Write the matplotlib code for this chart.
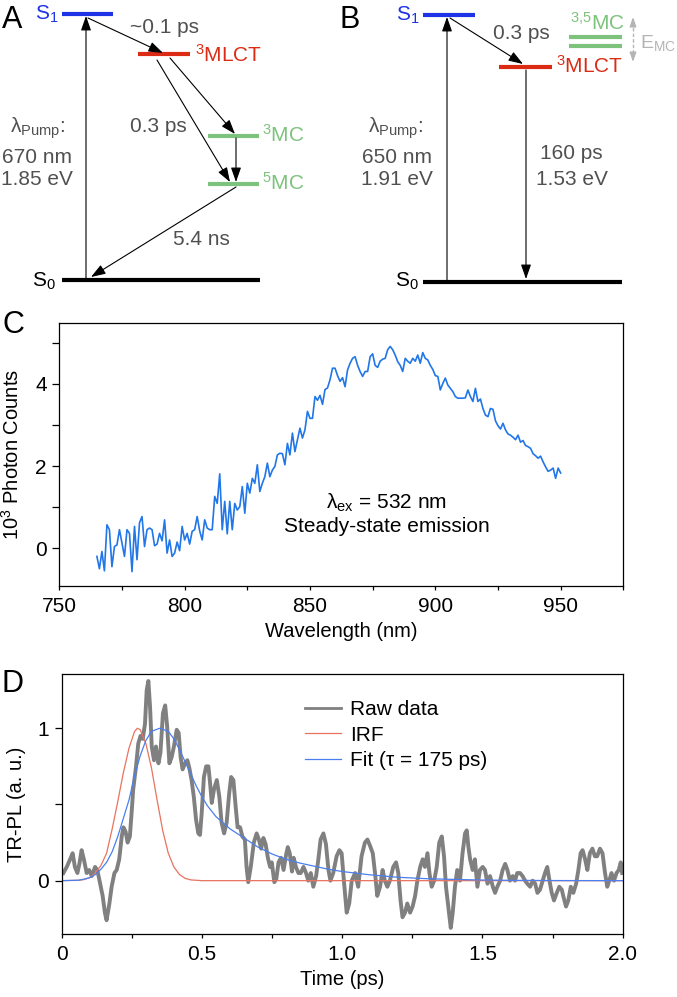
import matplotlib
matplotlib.use('Agg')
import matplotlib.pyplot as plt
import numpy as np

plt.rcParams['font.family'] = ['Liberation Sans', 'DejaVu Sans']
plt.rcParams['mathtext.fontset'] = 'custom'
plt.rcParams['mathtext.rm'] = 'Liberation Sans'
plt.rcParams['mathtext.it'] = 'Liberation Sans:italic'
plt.rcParams['mathtext.bf'] = 'Liberation Sans:bold'

W, H = 677, 997

# ---------------- panel C: steady-state emission ----------------
wl = np.arange(765, 951)
counts = [
    -0.20, -0.50, -0.08, -0.55, 0.57, 0.45, -0.45, 0.04, 0.08, 0.45,   # 765
    0.12, -0.20, 0.45, 0.36, -0.57, 0.53, -0.28, 0.62, 0.77, 0.04,     # 775
    0.45, 0.49, 0.45, 0.06, 0.10, 0.36, 0.18, 0.69, -0.12, 0.20,       # 785
    -0.20, -0.12, 0.15, -0.06, 0.53, 0.20, 0.36, 0.10, 0.41, 0.45,     # 795
    0.77, 0.42, 0.20, 0.69, 0.49, 0.45, 0.45, 1.26, 1.09, 1.81,        # 805
    0.45, 1.14, 0.35, 1.14, 0.45, 1.09, 0.93, 1.01, 1.50, 0.85,        # 815
    1.58, 1.34, 1.70, 1.58, 2.03, 1.38, 1.58, 1.74, 2.07, 1.74,        # 825
    1.90, 1.99, 2.27, 2.31, 2.30, 2.03, 2.55, 2.27, 2.80, 2.35,        # 835
    2.64, 2.92, 2.68, 2.88, 3.33, 3.16, 3.16, 3.69, 3.60, 3.72,        # 845
    3.50, 3.86, 3.90, 4.10, 4.38, 4.38, 4.20, 4.06, 4.15, 3.93,        # 855
    4.34, 4.50, 4.62, 4.66, 4.45, 4.30, 4.18, 4.30, 4.30, 4.66,        # 865
    4.73, 4.45, 4.40, 4.55, 4.60, 4.62, 4.83, 4.91, 4.83, 4.70,        # 875
    4.54, 4.45, 4.30, 4.62, 4.55, 4.50, 4.62, 4.55, 4.70, 4.50,        # 885
    4.76, 4.62, 4.58, 4.45, 4.35, 4.20, 4.18, 3.85, 4.01, 4.14,        # 895
    3.97, 3.89, 3.81, 3.69, 3.65, 3.65, 3.65, 3.66, 3.85, 3.69,        # 905
    3.57, 3.89, 3.57, 3.63, 3.40, 3.24, 3.20, 3.40, 3.38, 3.10,        # 915
    2.98, 2.90, 3.04, 2.88, 2.78, 2.75, 2.70, 2.64, 2.75, 2.58,        # 925
    2.62, 2.50, 2.47, 2.43, 2.30, 2.25, 2.19, 2.24, 2.10, 1.98,        # 935
    1.87, 1.90, 1.95, 1.70, 1.95, 1.83,                                # 945
]

# ---------------- panel D: TR-PL ----------------
t_raw = [0.006, 0.018, 0.030, 0.039, 0.047, 0.056, 0.063, 0.071, 0.079, 0.089,
         0.098, 0.107, 0.119, 0.127, 0.137, 0.146, 0.154, 0.160, 0.170, 0.178,
         0.188, 0.196, 0.205, 0.214, 0.220, 0.228, 0.235, 0.243, 0.249, 0.255,
         0.265, 0.273, 0.281, 0.289, 0.297, 0.303, 0.309, 0.315, 0.321, 0.329,
         0.336, 0.345, 0.352, 0.361, 0.369, 0.376, 0.384, 0.392, 0.400, 0.410,
         0.417, 0.424, 0.431, 0.440, 0.448, 0.455, 0.463, 0.471, 0.479, 0.487,
         0.493, 0.499, 0.507, 0.515, 0.523, 0.529, 0.535, 0.543, 0.553, 0.562,
         0.570, 0.579, 0.588, 0.597, 0.604, 0.612, 0.620, 0.627, 0.636, 0.644,
         0.653, 0.659, 0.665, 0.674, 0.685, 0.695, 0.703, 0.711, 0.719, 0.727,
         0.735, 0.743, 0.749, 0.758, 0.765, 0.773, 0.782, 0.791, 0.800, 0.806,
         0.813, 0.821, 0.827, 0.835, 0.844, 0.852, 0.862, 0.871, 0.879, 0.888,
         0.897, 0.907, 0.915, 0.923, 0.933, 0.942, 0.951, 0.958, 0.968, 0.980,
         0.990, 0.998, 1.006, 1.016, 1.025, 1.034, 1.046, 1.057, 1.069, 1.081,
         1.090, 1.099, 1.109, 1.117, 1.125, 1.135, 1.144, 1.152, 1.161, 1.170,
         1.182, 1.192, 1.200, 1.208, 1.215, 1.224, 1.232, 1.242, 1.251, 1.260,
         1.268, 1.278, 1.287, 1.295, 1.304, 1.311, 1.319, 1.328, 1.337, 1.346,
         1.355, 1.363, 1.370, 1.378, 1.387, 1.394, 1.402, 1.410, 1.420, 1.429,
         1.438, 1.444, 1.450, 1.456, 1.465, 1.473, 1.482, 1.491, 1.501, 1.509,
         1.518, 1.527, 1.537, 1.545, 1.553, 1.563, 1.572, 1.581, 1.589, 1.598,
         1.608, 1.616, 1.624, 1.634, 1.643, 1.652, 1.660, 1.670, 1.679, 1.688,
         1.696, 1.705, 1.715, 1.723, 1.731, 1.739, 1.747, 1.755, 1.765, 1.774,
         1.783, 1.788, 1.798, 1.806, 1.815, 1.824, 1.834, 1.842, 1.850, 1.857,
         1.866, 1.874, 1.883, 1.892, 1.901, 1.909, 1.919, 1.928, 1.937, 1.945,
         1.952, 1.960, 1.969, 1.978, 1.986, 1.993, 1.998]
y_raw = [0.05, 0.09, 0.14, 0.18, 0.09, 0.05, 0.11, 0.20, 0.14, 0.05,
         0.07, 0.03, 0.09, 0.07, -0.02, -0.10, -0.21, -0.26, -0.15, -0.04,
         0.05, 0.07, 0.14, 0.29, 0.35, 0.32, 0.25, 0.29, 0.44, 0.60,
         0.75, 0.90, 0.95, 0.93, 1.03, 1.25, 1.31, 1.14, 0.88, 0.79,
         0.88, 0.77, 0.84, 1.10, 1.15, 1.01, 0.77, 0.81, 0.88, 0.99,
         0.97, 0.81, 0.73, 0.77, 0.79, 0.74, 0.66, 0.55, 0.40, 0.31,
         0.30, 0.44, 0.68, 0.75, 0.75, 0.64, 0.51, 0.60, 0.66, 0.55,
         0.38, 0.31, 0.38, 0.57, 0.68, 0.66, 0.49, 0.35, 0.35, 0.29,
         0.27, 0.09, -0.01, 0.09, 0.25, 0.31, 0.27, 0.21, 0.28, 0.24,
         0.15, 0.09, 0.12, -0.01, 0.01, 0.12, 0.15, 0.07, 0.17, 0.22,
         0.18, 0.06, 0.15, 0.09, 0.05, 0.05, 0.09, 0.05, 0.00, 0.05,
         -0.04, 0.03, 0.14, 0.27, 0.31, 0.24, 0.07, 0.00, 0.05, 0.16,
         0.20, 0.18, 0.00, -0.21, -0.15, 0.00, 0.05, -0.04, 0.16, 0.25,
         0.27, 0.23, 0.18, 0.05, -0.10, -0.04, 0.07, 0.00, -0.04, 0.00,
         0.09, 0.12, 0.05, -0.13, -0.24, -0.21, -0.15, -0.21, -0.17, -0.10,
         0.00, 0.09, 0.14, 0.09, 0.18, 0.05, -0.04, 0.00, 0.09, 0.25,
         0.29, 0.16, -0.04, -0.17, -0.31, -0.21, -0.04, 0.07, 0.00, 0.18,
         0.31, 0.33, 0.22, 0.14, 0.07, 0.14, -0.04, 0.07, 0.09, 0.07,
         -0.02, 0.03, -0.04, -0.08, -0.04, 0.00, 0.07, 0.11, 0.07, 0.00,
         0.03, 0.00, 0.05, 0.05, 0.03, 0.00, -0.02, -0.04, 0.00, -0.02,
         -0.08, -0.06, 0.00, 0.05, 0.09, 0.00, -0.08, -0.13, -0.08, -0.04,
         -0.06, -0.10, -0.17, -0.13, -0.04, -0.08, -0.02, 0.07, 0.18, 0.20,
         0.14, 0.07, 0.18, 0.21, 0.16, 0.16, 0.21, 0.18, 0.05, -0.04,
         0.00, 0.05, 0.00, 0.05, 0.07, 0.12, 0.05]

irf_t = [0, 0.06, 0.08, 0.10, 0.12, 0.14, 0.16, 0.18, 0.20, 0.22, 0.24, 0.26,
         0.27, 0.28, 0.30, 0.32, 0.34, 0.36, 0.38, 0.40, 0.42, 0.44, 0.46, 0.50, 2.0]
irf_y = [0, 0.002, 0.007, 0.02, 0.05, 0.10, 0.18, 0.34, 0.52, 0.71, 0.87, 0.98,
         1.00, 0.99, 0.90, 0.74, 0.53, 0.33, 0.18, 0.09, 0.04, 0.015, 0.005, 0.0, 0.0]

fit_t = [0, 0.06, 0.08, 0.10, 0.12, 0.14, 0.16, 0.18, 0.20, 0.22, 0.24, 0.26,
         0.28, 0.30, 0.32, 0.35, 0.38, 0.40, 0.42, 0.44, 0.46, 0.48, 0.50, 0.52,
         0.55, 0.60, 0.65, 0.70, 0.75, 0.80, 0.85, 0.90, 0.95, 1.00, 1.10, 1.20,
         1.30, 1.40, 1.50, 1.60, 1.80, 2.00]
fit_y = [0, 0.003, 0.01, 0.02, 0.04, 0.075, 0.12, 0.19, 0.29, 0.41, 0.53, 0.69,
         0.82, 0.92, 0.98, 1.00, 0.98, 0.93, 0.86, 0.78, 0.70, 0.62, 0.55, 0.49,
         0.42, 0.34, 0.28, 0.22, 0.175, 0.14, 0.115, 0.095, 0.075, 0.06, 0.038, 0.022,
         0.013, 0.008, 0.004, 0.002, 0.0005, 0.0]

# ---------------- panels A, B: level schemes (pixel units, y down) ----------------
a_level_x0 = [62, 138, 208, 208, 62]
a_level_x1 = [113, 190, 259, 259, 260]
a_level_y = [14, 54, 136, 184, 280]
b_level_x0 = [423, 499, 569, 569, 423]
b_level_x1 = [475, 552, 622, 622, 622]
b_level_y = [15, 67, 37, 46, 282]

BLUE = '#1e32e6'
RED = '#dc2b14'
GREEN = '#7dc27d'
GREY = '#505050'
level_colors = [BLUE, RED, GREEN, GREEN, 'black']

fig = plt.figure(figsize=(W / 100, H / 100), dpi=100)


def px_rect(x0, y0, x1, y1):
    return [x0 / W, 1 - y1 / H, (x1 - x0) / W, (y1 - y0) / H]


top = fig.add_axes([0, 1 - 300 / H, 1, 300 / H])
top.set_xlim(0, W)
top.set_ylim(300, 0)
top.axis('off')

for x0s, x1s, ys in [(a_level_x0, a_level_x1, a_level_y),
                     (b_level_x0, b_level_x1, b_level_y)]:
    for x0, x1, y, c in zip(x0s, x1s, ys, level_colors):
        top.plot([x0, x1], [y, y], color=c, lw=3, solid_capstyle='butt')


def arrow(p0, p1, color='black', lw=0.8, ms=11):
    top.annotate('', xy=p1, xytext=p0,
                 arrowprops=dict(arrowstyle='-|>,head_length=0.8,head_width=0.28',
                                 color=color, lw=lw, shrinkA=0, shrinkB=0,
                                 mutation_scale=ms))


# panel A transitions
arrow((86, 280), (86, 16))
arrow((88, 18), (163, 53))
arrow((170, 58), (235, 134))
arrow((157, 60), (230, 182))
arrow((236, 138), (236, 182))
arrow((236, 187), (91, 277))
# panel B transitions
arrow((447, 280), (447, 17))
arrow((450, 18), (523, 64))
arrow((526, 70), (526, 279))

# E_MC dashed double arrow
EG = '#b4b4b4'
top.plot([633, 633], [22, 57], color=EG, lw=1, ls=(0, (2.5, 1.5)))
arrow((633, 24), (633, 17), color=EG, lw=1, ms=7)
arrow((633, 55), (633, 62), color=EG, lw=1, ms=7)

fs = 15
# panel A labels
top.text(2, 28, 'A', fontsize=22, ha='left', va='baseline')
top.text(58, 20, r'$\mathregular{S_1}$', color=BLUE, fontsize=fs, ha='right', va='baseline')
top.text(56, 287, r'$\mathregular{S_0}$', color='black', fontsize=fs, ha='right', va='baseline')
top.text(195, 62, r'$\mathregular{^3}$MLCT', color=RED, fontsize=fs, ha='left', va='baseline')
top.text(262, 142, r'$\mathregular{^3}$MC', color=GREEN, fontsize=fs, ha='left', va='baseline')
top.text(262, 190, r'$\mathregular{^5}$MC', color=GREEN, fontsize=fs, ha='left', va='baseline')
top.text(130, 33, '~0.1 ps', color=GREY, fontsize=fs, ha='left', va='baseline')
top.text(130, 132, '0.3 ps', color=GREY, fontsize=fs, ha='left', va='baseline')
top.text(173, 245, '5.4 ns', color=GREY, fontsize=fs, ha='left', va='baseline')
top.text(38, 133, r'$\mathregular{λ_{Pump}}$:', color=GREY, fontsize=fs, ha='center', va='baseline')
top.text(37, 163, '670 nm', color=GREY, fontsize=fs, ha='center', va='baseline')
top.text(37, 185, '1.85 eV', color=GREY, fontsize=fs, ha='center', va='baseline')

# panel B labels
top.text(340, 28, 'B', fontsize=22, ha='left', va='baseline')
top.text(419, 21, r'$\mathregular{S_1}$', color=BLUE, fontsize=fs, ha='right', va='baseline')
top.text(419, 287, r'$\mathregular{S_0}$', color='black', fontsize=fs, ha='right', va='baseline')
top.text(556, 73, r'$\mathregular{^3}$MLCT', color=RED, fontsize=fs, ha='left', va='baseline')
top.text(570, 30, r'$\mathregular{^{3{,}5}}$MC', color=GREEN, fontsize=fs, ha='left', va='baseline')
top.text(640, 48, r'$\mathregular{E_{MC}}$', color=EG, fontsize=14, ha='left', va='baseline')
top.text(493, 39, '0.3 ps', color=GREY, fontsize=fs, ha='left', va='baseline')
top.text(571, 159, '160 ps', color=GREY, fontsize=fs, ha='center', va='baseline')
top.text(572, 185, '1.53 eV', color=GREY, fontsize=fs, ha='center', va='baseline')
top.text(396, 133, r'$\mathregular{λ_{Pump}}$:', color=GREY, fontsize=fs, ha='center', va='baseline')
top.text(397, 163, '650 nm', color=GREY, fontsize=fs, ha='center', va='baseline')
top.text(397, 185, '1.91 eV', color=GREY, fontsize=fs, ha='center', va='baseline')


def style_axes(ax):
    for s in ax.spines.values():
        s.set_linewidth(0.9)
    ax.tick_params(axis='x', direction='out', length=3, width=0.9, pad=5, labelsize=15)
    ax.tick_params(axis='y', direction='out', length=5, width=0.9, pad=4, labelsize=15)


# ---- panel C ----
axc = fig.add_axes(px_rect(59.3, 323, 623.3, 586))
axc.plot(wl, counts, color='#2176e8', lw=1.2)
axc.set_xlim(750, 975)
axc.set_ylim(-0.92, 5.48)
axc.set_xticks(np.arange(750, 976, 25))
axc.set_xticklabels([str(v) if v % 50 == 0 else '' for v in range(750, 976, 25)])
axc.set_yticks([0, 1, 2, 3, 4, 5])
axc.set_yticklabels(['0', '', '2', '', '4', ''])
style_axes(axc)
axc.set_xlabel('Wavelength (nm)', fontsize=14.5, labelpad=4)
axc.set_ylabel(r'$\mathregular{10^3}$ Photon Counts', fontsize=14.5, labelpad=9)
axc.text(880.5, 1.1, r'$\mathregular{λ_{ex}}$ = 532 nm', fontsize=fs, ha='center', va='center')
axc.text(880.5, 0.52, 'Steady-state emission', fontsize=fs, ha='center', va='center')
fig.text(2 / W, 1 - 333 / H, 'C', fontsize=22, ha='left', va='baseline')

# ---- panel D ----
axd = fig.add_axes(px_rect(61.7, 674.3, 622.7, 934.3))
axd.plot(t_raw, y_raw, color='#808080', lw=2.8, label='Raw data', solid_joinstyle='round')
axd.plot(irf_t, irf_y, color='#e8735f', lw=0.9, label='IRF')
axd.plot(fit_t, fit_y, color='#4a7ff0', lw=0.9, label='Fit (τ = 175 ps)')
axd.set_xlim(0, 2.0)
axd.set_ylim(-0.352, 1.354)
axd.set_xticks(np.arange(0, 2.01, 0.25))
axd.set_xticklabels(['0', '', '0.5', '', '1.0', '', '1.5', '', '2.0'])
axd.set_yticks([0, 0.5, 1])
axd.set_yticklabels(['0', '', '1'])
style_axes(axd)
axd.set_xlabel('Time (ps)', fontsize=14.5, labelpad=4)
axd.set_ylabel('TR-PL (a. u.)', fontsize=14.5, labelpad=8)
leg = axd.legend(loc='upper left', bbox_to_anchor=(0.433, 0.9), frameon=False,
                 fontsize=fs, handlelength=1.75, handletextpad=0.45,
                 labelspacing=0.3, borderpad=0, borderaxespad=0)
for h in leg.get_lines():
    if h.get_label() == 'Raw data':
        h.set_linewidth(2.0)
fig.text(2 / W, 1 - 692 / H, 'D', fontsize=22, ha='left', va='baseline')

fig.savefig('out.png', dpi=100)
